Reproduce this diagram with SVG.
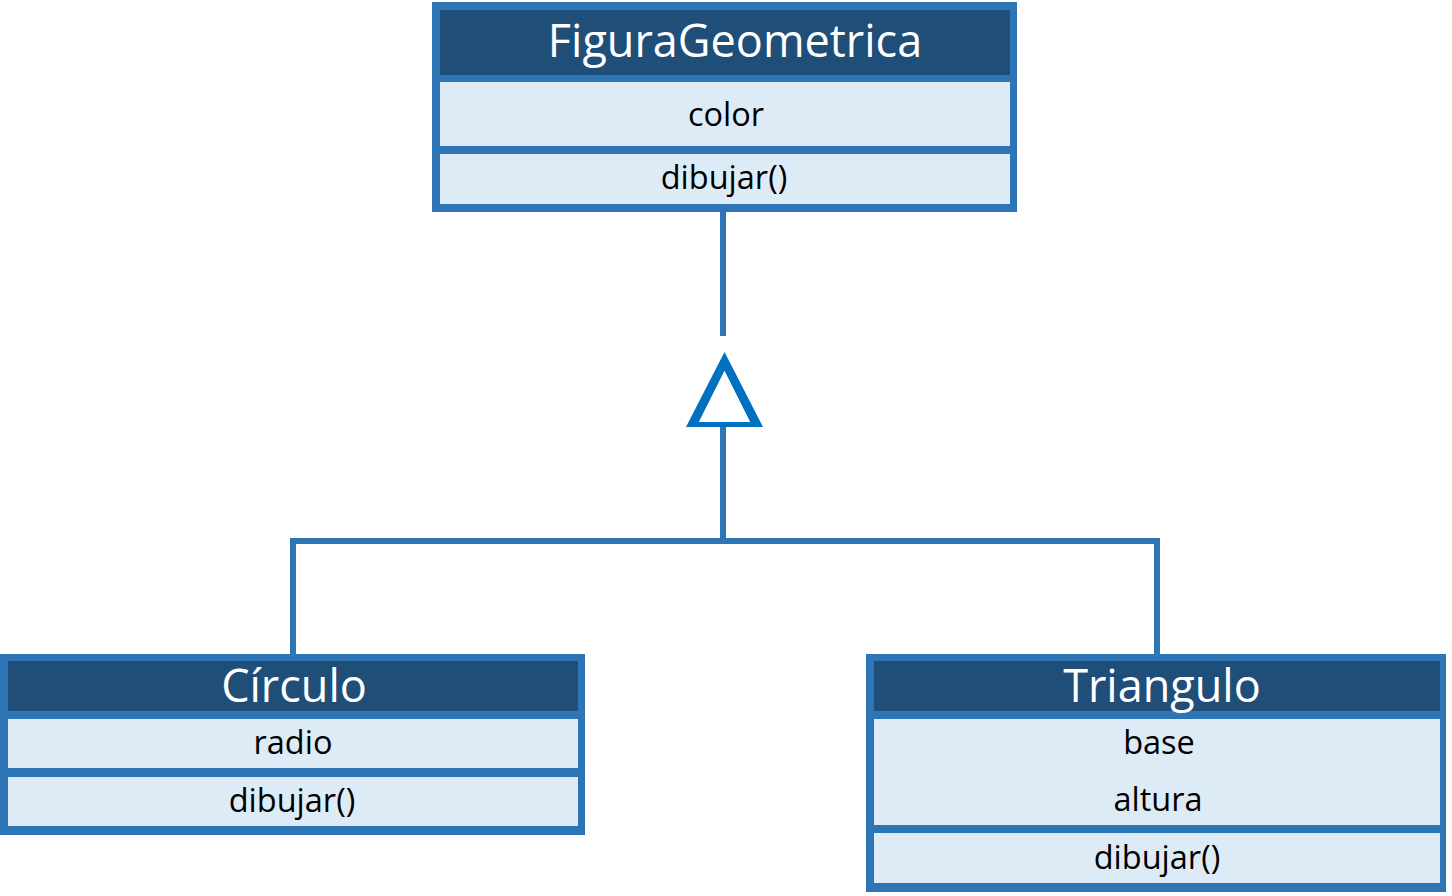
<svg xmlns="http://www.w3.org/2000/svg" width="1452" height="896" viewBox="0 0 1452 896">
<style>
.frame{fill:#2E75B6}
.head{fill:#1F4E79}
.cell{fill:#DDEBF7}
.title{font-family:"Open Sans","Liberation Sans",sans-serif;font-size:45px;fill:#FFFFFF;text-anchor:middle}
.item{font-family:"Open Sans","Liberation Sans",sans-serif;font-size:32.5px;fill:#000000;text-anchor:middle}
.conn{stroke:#2E75B6;stroke-width:6;fill:none}
</style>
<rect width="1452" height="896" fill="#FFFFFF"/>
<g id="connectors">
<line class="conn" x1="723" y1="212" x2="723" y2="336"/>
<polyline class="conn" points="723,426 723,541 293,541 293,656"/>
<polyline class="conn" points="723,541 1157,541 1157,656" stroke-width="7"/>
<path d="M724.5,352 L686,427 L763,427 Z M724.5,371 L699,422 L750,422 Z" fill="#0070C0" fill-rule="evenodd"/>
<path d="M724.5,371 L699,422 L750,422 Z" fill="#FFFFFF"/>
</g>
<g id="FiguraGeometrica">
<rect class="frame" x="432" y="2" width="585" height="210"/>
<rect class="head" x="440" y="10" width="570" height="65"/>
<rect class="cell" x="440" y="82" width="570" height="64"/>
<rect class="cell" x="440" y="154" width="570" height="50"/>
<text class="title" x="735" y="57">FiguraGeometrica</text>
<text class="item" x="726" y="126">color</text>
<text class="item" x="724" y="189">dibujar()</text>
</g>
<g id="Circulo">
<rect class="frame" x="0" y="654" width="585" height="181"/>
<rect class="head" x="8" y="661" width="570" height="50"/>
<rect class="cell" x="8" y="719" width="570" height="49"/>
<rect class="cell" x="8" y="777" width="570" height="49"/>
<text class="title" x="294" y="702">Círculo</text>
<text class="item" x="293" y="754">radio</text>
<text class="item" x="292" y="812">dibujar()</text>
</g>
<g id="Triangulo">
<rect class="frame" x="866" y="654" width="580" height="238"/>
<rect class="head" x="874" y="661" width="566" height="50"/>
<rect class="cell" x="874" y="719" width="566" height="106"/>
<rect class="cell" x="874" y="833" width="566" height="50"/>
<text class="title" x="1162" y="702">Triangulo</text>
<text class="item" x="1159" y="754">base</text>
<text class="item" x="1158" y="811">altura</text>
<text class="item" x="1157" y="869">dibujar()</text>
</g>
</svg>
